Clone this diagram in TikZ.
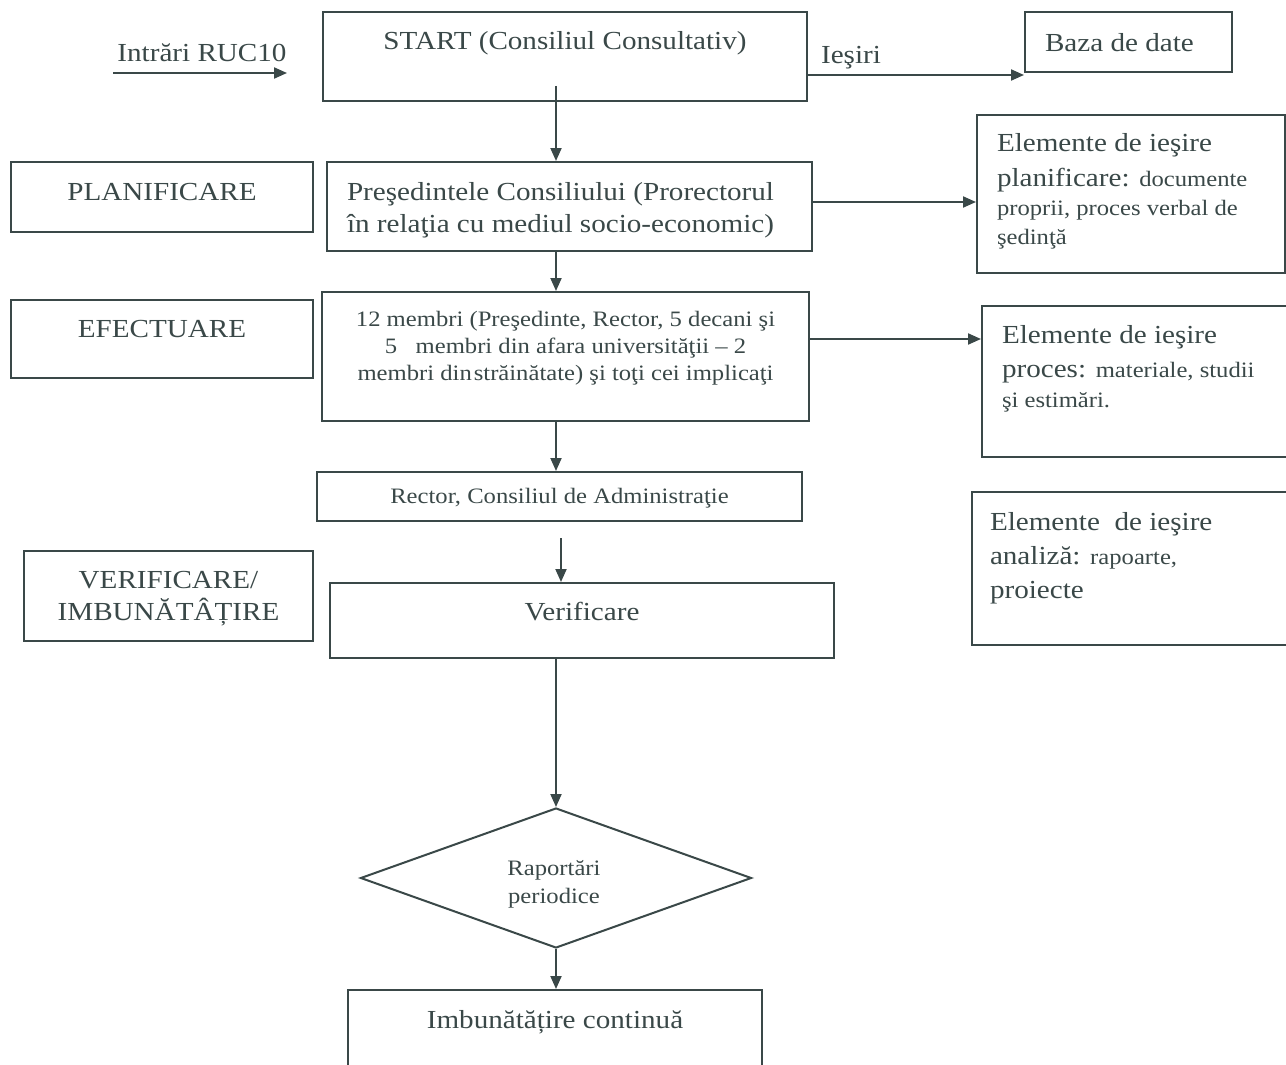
\documentclass[tikz,border=0pt]{standalone}
\usepackage{fontspec}
\setmainfont{Liberation Serif}[FakeStretch=1.12]
\usetikzlibrary{arrows.meta,shapes.geometric}
\definecolor{ink}{RGB}{58,72,72}
\newcommand{\Fbig}[1]{\fontsize{26}{#1}\selectfont}
\newcommand{\Fsml}[1]{\fontsize{22}{#1}\selectfont}
% centred text, top-aligned: width, height, first baseline, content
\newcommand{\bxc}[4]{\parbox[c][#2][t]{#1}{\centering\rule{0pt}{#3}#4}}
% left text, top-aligned with 20pt indent
\newcommand{\bxl}[4]{\parbox[c][#2][t]{#1}{\raggedright\leftskip=20pt\rule{0pt}{#3}#4}}
\begin{document}
\begin{tikzpicture}[x=1pt,y=-1pt,color=ink,line width=2pt,
  box/.style={draw,inner sep=0pt,rectangle},
  arr/.style={-{Triangle[length=13pt,width=11pt]}},
  lbl/.style={inner sep=0pt,anchor=base,font=\Fbig{30}}]
\clip (0,0) rectangle (1286,1065);
\fill[white] (0,0) rectangle (1286,1065);

% top row
\node[box] (start) at (565,56.5) {\bxc{484pt}{89pt}{38pt}{\Fbig{33}START (Consiliul Consultativ)}};
\node[box] (baza) at (1128.5,42) {\bxl{207pt}{60pt}{40pt}{\Fbig{33}Baza de date}};
\node[lbl] (intr) at (202,62) {Intrări RUC10};
\node[lbl] (ies) at (851,64) {Ieşiri};
\coordinate (inA) at (113,73);
\coordinate (inB) at (287,73);

% left column
\node[box] (plan) at (162,197) {\bxc{302pt}{70pt}{38pt}{\Fbig{33}PLANIFICARE}};
\node[box] (efect) at (162,339) {\bxc{302pt}{78pt}{37pt}{\Fbig{33}EFECTUARE}};
\node[box] (vimb) at (168.5,596) {\bxc{289pt}{90pt}{37pt}{\Fbig{32}VERIFICARE/\\IMBUNĂTÂȚIRE}};

% centre column
\node[box] (pres) at (569.5,206.5) {\bxl{485pt}{89pt}{38pt}{\Fbig{32}Preşedintele Consiliului (Prorectorul\\în relaţia cu mediul socio-economic)}};
\node[box] (mem) at (565.5,356.5) {\bxc{487pt}{129pt}{34pt}{\Fsml{27}12 membri (Preşedinte, Rector, 5 decani şi\\5\ \ \ membri din afara universităţii -- 2\\membri din\hspace{2pt}străinătate) şi toţi cei implicaţi}};
\node[box] (rect) at (559.5,496.5) {\bxc{485pt}{49pt}{31pt}{\Fsml{27}Rector, Consiliul de Administraţie}};
\node[box] (verif) at (582,620.5) {\bxc{504pt}{75pt}{37pt}{\Fbig{33}Verificare}};
\node[draw,diamond,inner sep=0pt,minimum width=391pt,minimum height=140pt] (rap) at (556,878) {};
\node[inner sep=0pt,align=center,font=\Fsml{28}] (raptxt) at (554,884) {Raportări\\periodice};
\node[box] (imb) at (555,1035) {\bxc{414pt}{90pt}{38pt}{\Fbig{33}Imbunătățire continuă}};

% right column
\node[box] (elpl) at (1131,194) {\parbox[c][158pt][t]{308pt}{\raggedright\leftskip=20pt
  {\Fbig{35}\rule{0pt}{36pt}Elemente de ieşire\par}
  {\Fbig{35}planificare: {\Fsml{29}documente}\par}
  {\Fsml{29}proprii, proces verbal de\par}
  {\Fsml{29}şedinţă\par}}};
\node[box] (elpr) at (1136,381.5) {\parbox[c][151pt][t]{308pt}{\raggedright\leftskip=20pt
  {\Fbig{34}\rule{0pt}{37pt}Elemente de ieşire\par}
  {\Fbig{34}proces: {\Fsml{30}materiale, studii}\par}
  {\Fsml{30}şi estimări.\par}}};
\node[box] (elan) at (1131,568.5) {\parbox[c][153pt][t]{318pt}{\raggedright\leftskip=18pt
  {\Fbig{34}\rule{0pt}{38pt}Elemente\ \ de ieşire\par}
  {\Fbig{34}analiză: {\Fsml{27}rapoarte,}\par}
  {\Fbig{34}proiecte\par}}};

% connectors
\draw[arr] (inA) -- (inB);
\draw[arr] (start.east |- 0,75) -- (baza.west |- 0,75);
\coordinate (sA) at (556,86);
\draw[arr] (sA) -- (pres.north -| 556,0);
\draw[arr] (pres.east |- 0,202) -- (elpl.west |- 0,202);
\draw[arr] (pres.south -| 556,0) -- (mem.north -| 556,0);
\draw[arr] (mem.east |- 0,339) -- (elpr.west |- 0,339);
\draw[arr] (mem.south -| 556,0) -- (rect.north -| 556,0);
\coordinate (rA) at (561,538);
\draw[arr] (rA) -- (verif.north -| 561,0);
\draw[arr] (verif.south -| 556,0) -- (rap.north);
\draw[arr] (rap.south) -- (imb.north -| rap.south);
\end{tikzpicture}
\end{document}
